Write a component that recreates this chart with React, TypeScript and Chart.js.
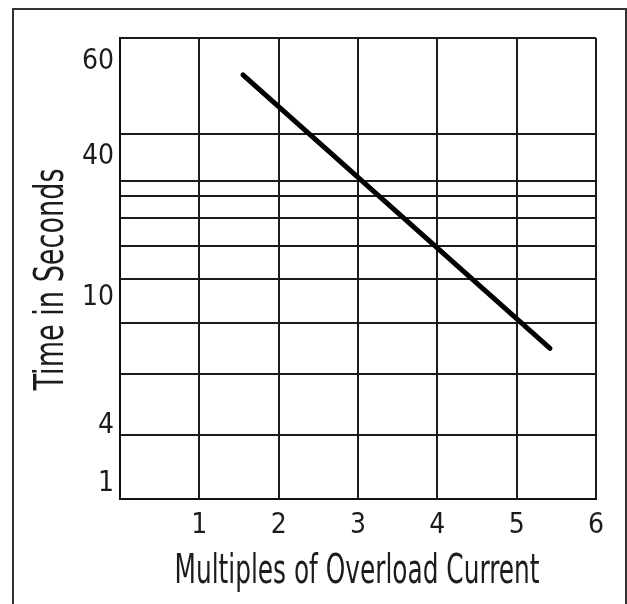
import React, { useEffect, useRef } from 'react';
import { Chart, registerables } from 'chart.js';

Chart.register(...registerables);

// ---- data ----
const xTickValues = [0, 1, 2, 3, 4, 5, 6];
const yGridValues = [8.3, 16.3, 22.9, 28.6, 32.9, 36.6, 39.4, 41.4, 47.5, 60];
const yLabelValues = [2.0, 9.5, 26.2, 44.6, 56.9];
const yLabelTexts = ['1', '4', '10', '40', '60'];
const curveX = [1.55, 5.42];
const curveY = [55.2, 19.6];
const xTitle = 'Multiples of Overload Current';
const yTitle = 'Time in Seconds';

const FONT = "'Liberation Sans Narrow', 'DejaVu Sans Condensed', 'Liberation Sans', sans-serif";
const INK = '#1c1c1c';

const titlePlugin = {
  id: 'fitTitles',
  afterDraw(chart: any) {
    const ctx = chart.ctx as CanvasRenderingContext2D;
    const area = chart.chartArea;
    const drawFit = (text: string, cx: number, cy: number, targetW: number, rot: number) => {
      ctx.save();
      ctx.font = `40px ${FONT}`;
      const w = ctx.measureText(text).width;
      ctx.translate(cx, cy);
      ctx.rotate(rot);
      ctx.scale(targetW / w, 1);
      ctx.textAlign = 'center';
      ctx.textBaseline = 'alphabetic';
      ctx.fillStyle = INK;
      ctx.fillText(text, 0, 0);
      ctx.restore();
    };
    drawFit(xTitle, (area.left + area.right) / 2 - 1, area.bottom + 84, 365, 0);
    drawFit(yTitle, area.left - 57, (area.top + area.bottom) / 2 + 11, 222, -Math.PI / 2);
  },
};

export default function App() {
  const ref = useRef<HTMLCanvasElement | null>(null);
  useEffect(() => {
    if (!ref.current) return;
    const chart = new Chart(ref.current, {
      type: 'line',
      data: {
        datasets: [
          {
            data: curveX.map((x, i) => ({ x, y: curveY[i] })),
            borderColor: '#000',
            borderWidth: 5,
            borderCapStyle: 'round',
            pointRadius: 0,
            fill: false,
          },
        ],
      },
      options: {
        animation: false,
        responsive: false,
        layout: { padding: { top: 38, right: 31, left: 0, bottom: 0 } },
        plugins: { legend: { display: false }, tooltip: { enabled: false } },
        scales: {
          x: {
            type: 'linear',
            min: 0,
            max: 6,
            afterBuildTicks: (s: any) => {
              s.ticks = xTickValues.map((v) => ({ value: v }));
            },
            afterFit: (s: any) => {
              s.height = 105;
            },
            ticks: {
              autoSkip: false,
              maxRotation: 0,
              padding: 10,
              color: INK,
              font: { family: FONT, size: 28 },
              callback: (v: any) => (v === 0 ? '' : String(v)),
            },
            grid: {
              drawTicks: false,
              lineWidth: 2,
              color: (c: any) => (c.tick && c.tick.value === 0 ? 'rgba(0,0,0,0)' : INK),
            },
            border: { display: true, color: '#111', width: 2 },
          },
          y: {
            type: 'linear',
            min: 0,
            max: 60,
            afterBuildTicks: (s: any) => {
              s.ticks = [...yGridValues, ...yLabelValues]
                .sort((a, b) => a - b)
                .map((v) => ({ value: v }));
            },
            afterFit: (s: any) => {
              s.width = 120;
            },
            ticks: {
              autoSkip: false,
              padding: 6,
              color: INK,
              font: { family: FONT, size: 28 },
              callback: (v: any) => {
                const i = yLabelValues.indexOf(v);
                return i >= 0 ? yLabelTexts[i] : '';
              },
            },
            grid: {
              drawTicks: false,
              lineWidth: 2,
              color: (c: any) =>
                c.tick && yGridValues.includes(c.tick.value) ? INK : 'rgba(0,0,0,0)',
            },
            border: { display: true, color: '#111', width: 2 },
          },
        },
      },
      plugins: [titlePlugin],
    } as any);
    return () => chart.destroy();
  }, []);

  return (
    <div style={{ position: 'fixed', left: 0, top: 0, width: 627, height: 604, background: '#fff', overflow: 'hidden' }}>
      <div
        style={{
          position: 'absolute',
          left: 12,
          top: 8,
          width: 611,
          height: 620,
          borderLeft: '2px solid #333',
          borderTop: '2px solid #333',
          borderRight: '2px solid #333',
        }}
      />
      <canvas ref={ref} width={627} height={604} style={{ position: 'absolute', left: 0, top: 0, display: 'block' }} />
    </div>
  );
}
